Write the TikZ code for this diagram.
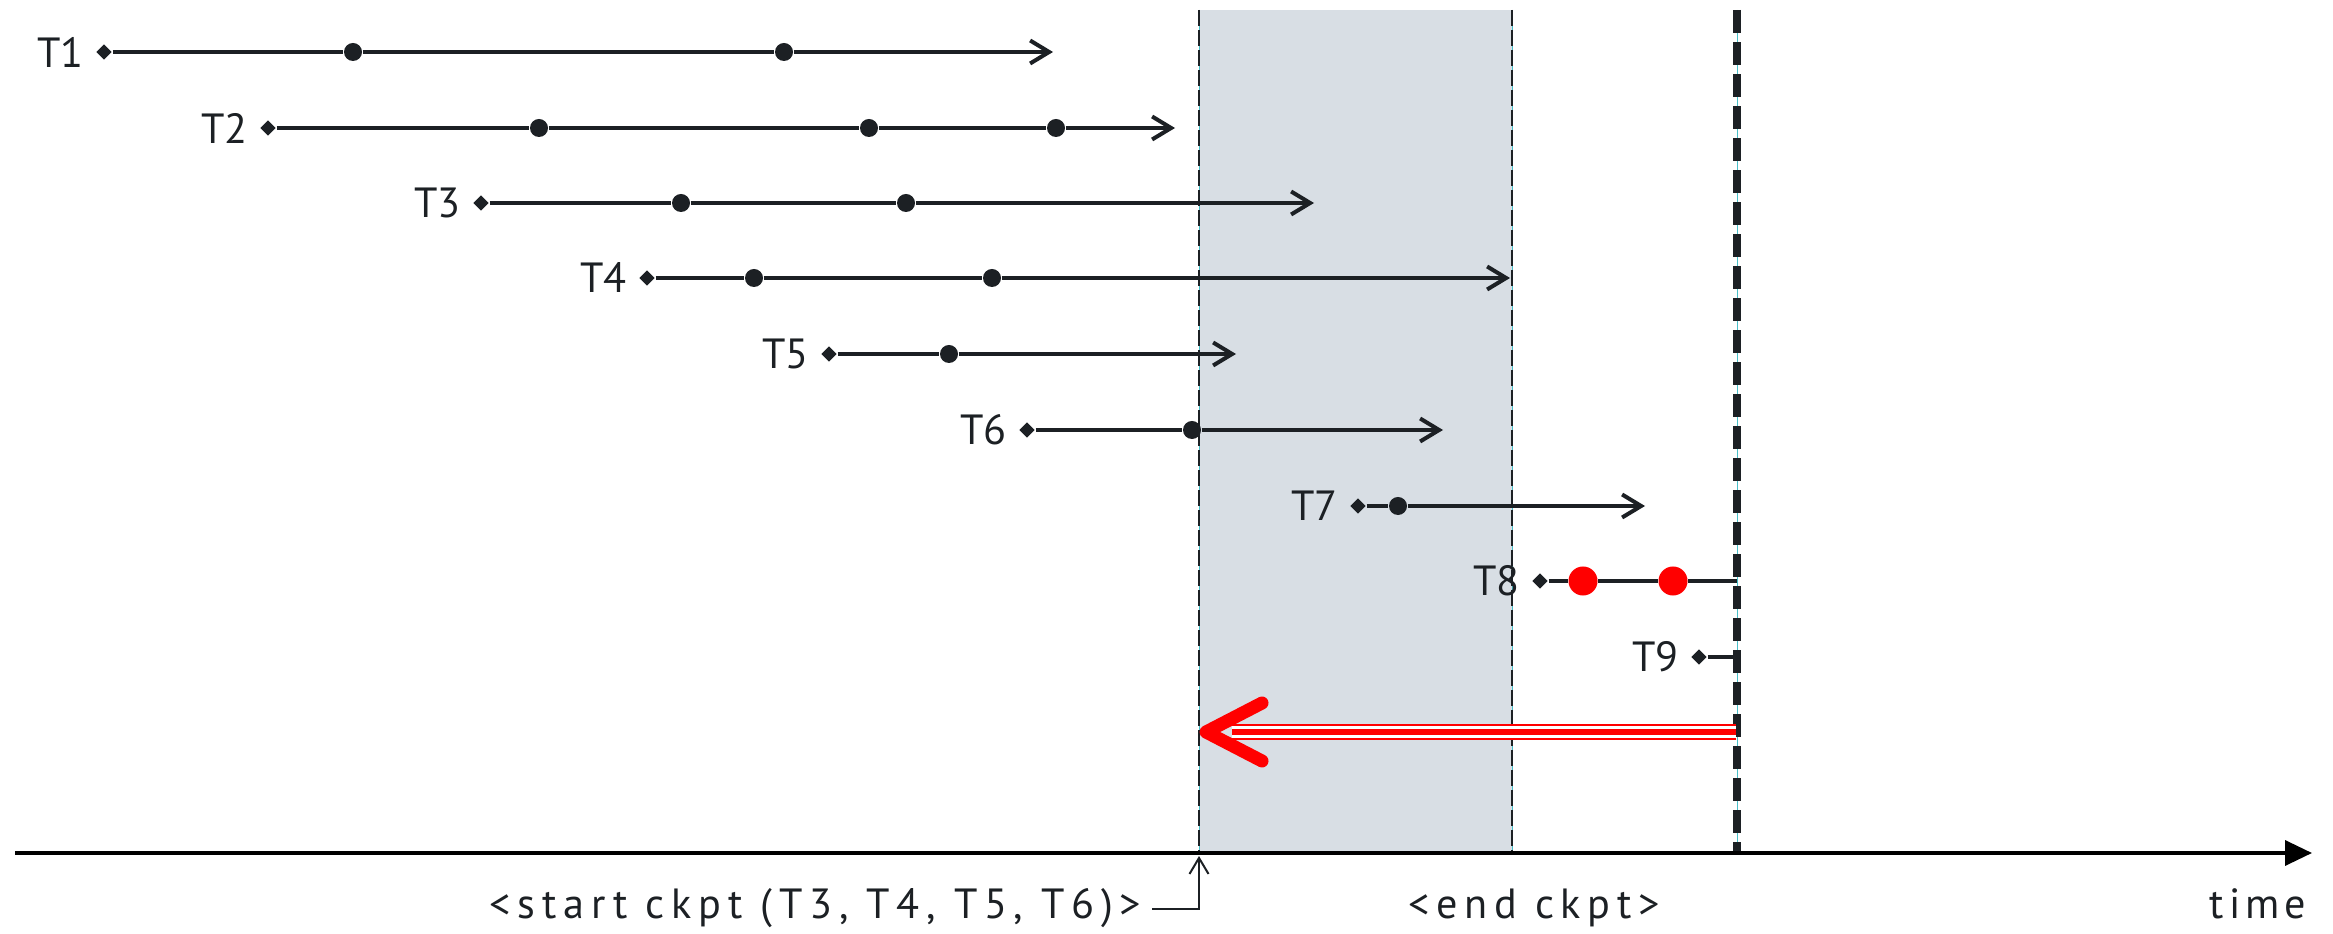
\documentclass[tikz,border=0pt]{standalone}
\usepackage{fontspec}
\setmainfont{PT Sans}
\newfontfamily\widefont[LetterSpace=16]{PT Sans}
\newfontfamily\timefont[LetterSpace=12]{PT Sans}
\usetikzlibrary{arrows.meta,shapes.geometric}
\definecolor{ink}{RGB}{28,32,36}
\definecolor{ckshade}{RGB}{216,222,228}
\definecolor{guide}{RGB}{70,190,200}
\begin{document}
\begin{tikzpicture}[x=0.01cm,y=-0.01cm,
  font=\fontsize{12}{14}\selectfont,
  tline/.style={line width=0.04cm, draw=ink},
  tarrow/.style={tline, -{Straight Barb[length=0.19cm,width=0.23cm,line width=0.04cm]}},
  tstart/.style={diamond, fill=ink, inner sep=0pt, minimum size=0.16cm},
  evt/.style={circle, fill=ink, inner sep=0pt, minimum size=0.18cm},
  redevt/.style={circle, fill=red, inner sep=0pt, minimum size=0.29cm},
  tlabel/.style={anchor=east, inner sep=0pt, text=ink, xshift=-0.11cm},
  thindash/.style={draw=ink, line width=0.022cm, dash pattern=on 0.16cm off 0.04cm},
  thickdash/.style={draw=ink, line width=0.085cm, dash pattern=on 0.23cm off 0.09cm},
  guideline/.style={draw=guide, line width=0.01cm},
  axis/.style={draw=black, line width=0.035cm, -{Triangle[length=0.27cm,width=0.25cm]}},
  conn/.style={draw=ink, line width=0.02cm, -{Straight Barb[length=0.16cm,width=0.19cm,line width=0.02cm]}},
  txt/.style={text=ink, inner sep=0pt, font=\widefont\fontsize{12}{14}\selectfont}
]
\useasboundingbox (0,0) rectangle (2333,934);

% checkpoint region
\fill[ckshade] (1199,10) rectangle (1512,853);
\coordinate (sa) at (1199,10); \coordinate (sb) at (1199,853);
\coordinate (ea) at (1512,10); \coordinate (eb) at (1512,853);
\coordinate (ka) at (1737,10); \coordinate (kb) at (1737,853);
\draw[guideline] (sa) -- (sb);
\draw[guideline] (ea) -- (eb);
\draw[guideline] (ka) -- (kb);
\draw[thindash] (sa) -- (sb);
\draw[thindash] (ea) -- (eb);
\draw[thickdash] (ka) -- (kb);

% T1
\node[tstart] (s1) at (104,52) {};
\node[tlabel] (l1) at (s1.west) {T1};
\node[evt] (d11) at (353,52) {};
\node[evt] (d12) at (784,52) {};
\coordinate (c1) at (1053,52);
\draw[tarrow] (s1) -- (d11) -- (d12) -- (c1);

% T2
\node[tstart] (s2) at (268,128) {};
\node[tlabel] (l2) at (s2.west) {T2};
\node[evt] (d21) at (539,128) {};
\node[evt] (d22) at (869,128) {};
\node[evt] (d23) at (1056,128) {};
\coordinate (c2) at (1175,128);
\draw[tarrow] (s2) -- (d21) -- (d22) -- (d23) -- (c2);

% T3
\node[tstart] (s3) at (481,203) {};
\node[tlabel] (l3) at (s3.west) {T3};
\node[evt] (d31) at (681,203) {};
\node[evt] (d32) at (906,203) {};
\coordinate (c3) at (1314,203);
\draw[tarrow] (s3) -- (d31) -- (d32) -- (c3);

% T4
\node[tstart] (s4) at (647,278) {};
\node[tlabel] (l4) at (s4.west) {T4};
\node[evt] (d41) at (754,278) {};
\node[evt] (d42) at (992,278) {};
\coordinate (c4) at (1510,278);
\draw[tarrow] (s4) -- (d41) -- (d42) -- (c4);

% T5
\node[tstart] (s5) at (829,354) {};
\node[tlabel] (l5) at (s5.west) {T5};
\node[evt] (d51) at (949,354) {};
\coordinate (c5) at (1236,354);
\draw[tarrow] (s5) -- (d51) -- (c5);

% T6
\node[tstart] (s6) at (1027,430) {};
\node[tlabel] (l6) at (s6.west) {T6};
\node[evt] (d61) at (1192,430) {};
\coordinate (c6) at (1443,430);
\draw[tarrow] (s6) -- (d61) -- (c6);

% T7
\node[tstart] (s7) at (1358,506) {};
\node[tlabel] (l7) at (s7.west) {T7};
\node[evt] (d71) at (1398,506) {};
\coordinate (c7) at (1645,506);
\draw[tarrow] (s7) -- (d71) -- (c7);

% T8
\node[tstart] (s8) at (1540,581) {};
\node[tlabel] (l8) at (s8.west) {T8};
\node[redevt] (d81) at (1583,581) {};
\node[redevt] (d82) at (1673,581) {};
\coordinate (c8) at (1737,581);
\draw[tline] (s8) -- (d81) -- (d82) -- (c8);

% T9
\node[tstart] (s9) at (1699,657) {};
\node[tlabel] (l9) at (s9.west) {T9};
\coordinate (c9) at (1737,657);
\draw[tline] (s9) -- (c9);

% red backward arrow
\coordinate (ra) at (1736,732);
\coordinate (rb) at (1232,732);
\coordinate (rt) at (1206,732);
\coordinate (ru) at (1262,703);
\coordinate (rl) at (1262,761);
\draw[draw=red, line width=0.022cm, double=white, double distance=0.115cm] (ra) -- (rb);
\draw[draw=red, line width=0.05cm] (ra) -- (rb);
\draw[draw=red, line width=0.13cm, line cap=round, line join=round] (ru) -- (rt) -- (rl);

% time axis
\coordinate (ax0) at (15,853);
\coordinate (ax1) at (2312,853);
\draw[axis] (ax0) -- (ax1);

% labels
\node[txt, anchor=base east, inner xsep=0.1cm] (sl) at (1152,919) {<start ckpt (T3, T4, T5, T6)>};
\coordinate (sc) at (1199,856);
\draw[conn] (sl.east) -| (sc);
\node[txt, anchor=base] (el) at (1534,919) {<end ckpt>};
\node[txt, anchor=base east, font=\timefont\fontsize{12}{14}\selectfont] (tl) at (2307,919) {time};
\end{tikzpicture}
\end{document}
